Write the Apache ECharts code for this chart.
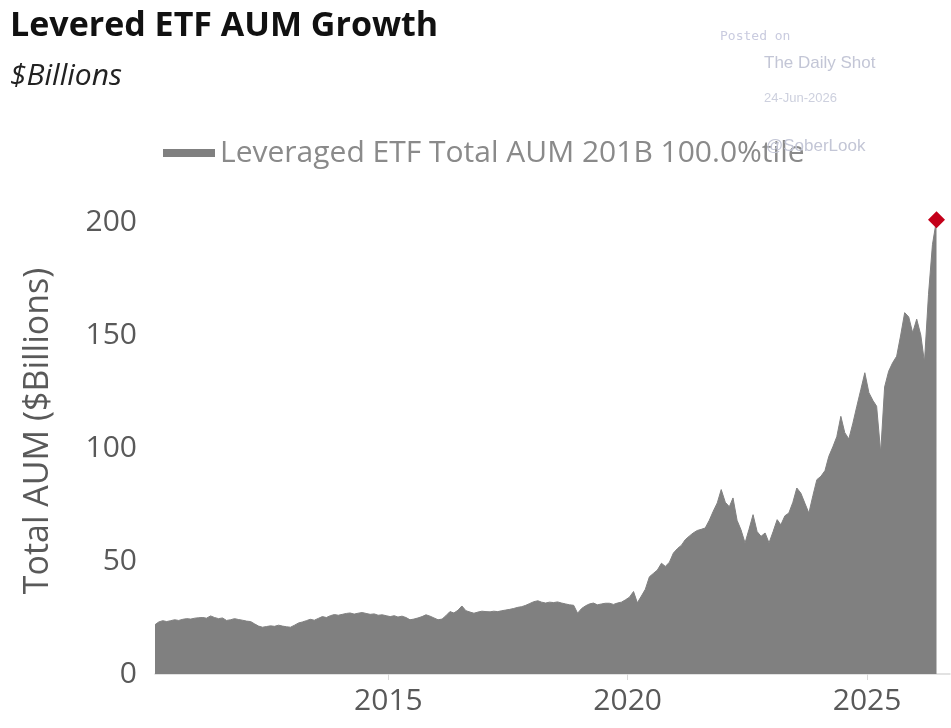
<!DOCTYPE html>
<html>
<head>
<meta charset="utf-8">
<script src="https://cdn.jsdelivr.net/npm/echarts@6/dist/echarts.min.js"></script>
<style>
  html, body { margin: 0; padding: 0; background: #fff; }
  #chart { width: 951px; height: 728px; }
</style>
</head>
<body>
<div id="chart"></div>
<script>
// monthly AUM, $B (mid-month)
const aum2010 = [21.8, 23.0, 23.6, 23.2, 23.6, 24.0, 23.7, 24.2, 24.5, 24.3, 24.7]; // from Feb
const aum2011 = [24.9, 25.0, 24.7, 25.7, 25.0, 24.5, 24.8, 23.7, 24.0, 24.5, 24.1, 23.8];
const aum2012 = [23.4, 23.2, 22.2, 21.2, 20.7, 21.0, 21.3, 21.1, 21.6, 21.2, 20.9, 20.7];
const aum2013 = [21.6, 22.6, 23.0, 23.6, 24.2, 23.8, 24.6, 25.4, 25.0, 25.8, 26.3, 26.0];
const aum2014 = [26.4, 26.8, 27.0, 26.5, 26.9, 27.2, 26.8, 26.4, 26.6, 26.0, 26.2, 25.8];
const aum2015 = [25.4, 25.8, 25.2, 25.6, 25.0, 24.0, 24.3, 24.8, 25.4, 26.2, 25.6, 24.8];
const aum2016 = [24.0, 24.3, 25.8, 27.6, 27.0, 28.2, 30.1, 28.0, 27.4, 26.9, 27.4, 27.8];
const aum2017 = [27.6, 27.5, 27.8, 27.6, 28.0, 28.3, 28.6, 29.0, 29.5, 29.8, 30.4, 31.2];
const aum2018 = [32.0, 32.4, 31.8, 31.4, 31.8, 31.6, 31.9, 31.4, 31.0, 30.6, 30.4, 26.9];
const aum2019 = [29.0, 30.2, 31.0, 31.4, 30.6, 31.0, 31.3, 31.3, 30.8, 31.4, 31.8, 32.8];
const aum2020 = [34.0, 36.5, 31.5, 34.5, 37.5, 43.0, 44.5, 46.0, 49.0, 47.6, 49.5, 53.5];
const aum2021 = [55.5, 57.0, 59.4, 61.0, 62.4, 63.5, 64.0, 64.6, 68.0, 72.0, 75.7, 81.6];
const aum2022 = [76.0, 74.0, 77.9, 68.0, 63.8, 58.0, 64.0, 70.5, 63.0, 60.9, 62.4, 58.0];
const aum2023 = [63.0, 68.3, 66.0, 70.0, 71.2, 76.0, 82.3, 80.0, 75.5, 71.2, 79.0, 86.0];
const aum2024 = [87.5, 90.0, 96.3, 100.5, 105.0, 114.0, 106.8, 104.0, 111.0, 118.5, 126.0, 133.3];
const aum2025 = [124.5, 121.0, 118.5, 98.0, 127.0, 134.0, 137.7, 140.6, 150.0, 159.9, 158.0, 151.0];
const aum2026 = [157.0, 150.0, 138.0, 168.0, 190.0, 201.0]; // to Jun

const yearRows = [aum2010, aum2011, aum2012, aum2013, aum2014, aum2015, aum2016, aum2017,
  aum2018, aum2019, aum2020, aum2021, aum2022, aum2023, aum2024, aum2025, aum2026];
const firstYear = 2010;
const firstMonth = 2;

const yearTicks = [2015, 2020, 2025];

const seriesName = 'Leveraged ETF Total AUM 201B 100.0%tile';

const points = [];
yearRows.forEach((row, i) => {
  const yr = firstYear + i;
  const startM = i === 0 ? firstMonth : 1;
  row.forEach((v, j) => {
    const m = startM + j;
    points.push([Date.UTC(yr, m - 1, 15), v]);
  });
});
const last = points[points.length - 1];
const xTickValues = yearTicks.map((y) => Date.UTC(y, 0, 1));

const chart = echarts.init(document.getElementById('chart'));
const grey = '#808080';
const tickText = '#595959';

chart.setOption({
  animation: false,
  textStyle: { fontFamily: 'Open Sans' },
  title: [
    {
      text: 'Levered ETF AUM Growth',
      left: 5,
      top: 4,
      textStyle: { fontFamily: 'Open Sans', fontWeight: 'bold', fontSize: 34, color: '#111' }
    },
    {
      text: '$Billions',
      left: 5,
      top: 56,
      textStyle: { fontFamily: 'Open Sans', fontStyle: 'italic', fontWeight: 'normal', fontSize: 30, color: '#222' }
    }
  ],
  legend: {
    left: 158,
    top: 133,
    icon: 'rect',
    itemWidth: 52,
    itemHeight: 8,
    textStyle: { fontFamily: 'Open Sans', fontSize: 30, color: '#8a8a8a' },
    data: [seriesName]
  },
  grid: { left: 155, right: 1, top: 222, bottom: 54 },
  xAxis: {
    type: 'value',
    min: Date.UTC(2010, 1, 15),
    max: Date.UTC(2026, 8, 26),
    axisLine: { lineStyle: { color: '#d9d9d9', width: 1.5 } },
    axisTick: {
      show: true,
      length: 6,
      lineStyle: { color: '#d9d9d9' },
      customValues: xTickValues
    },
    axisLabel: {
      customValues: xTickValues,
      formatter: (v) => String(new Date(v).getUTCFullYear()),
      fontSize: 30,
      color: tickText,
      margin: 12
    },
    splitLine: { show: false }
  },
  yAxis: {
    type: 'value',
    min: 0,
    max: 200,
    interval: 50,
    name: 'Total AUM ($Billions)',
    nameLocation: 'middle',
    nameGap: 100,
    nameTextStyle: { fontSize: 34, color: tickText, padding: [0, 0, 0, 34] },
    axisLine: { show: false },
    axisTick: { show: false },
    axisLabel: {
      fontSize: 30,
      color: tickText,
      margin: 18
    },
    splitLine: { show: false }
  },
  series: [
    {
      name: seriesName,
      type: 'line',
      data: points,
      showSymbol: false,
      clip: false,
      lineStyle: { color: grey, width: 1 },
      itemStyle: { color: grey },
      areaStyle: { color: grey, opacity: 1 }
    },
    {
      name: 'latest',
      type: 'scatter',
      data: [last],
      symbol: 'diamond',
      symbolSize: 17,
      clip: false,
      itemStyle: { color: '#c4001a', opacity: 1 },
      z: 5
    }
  ],
  graphic: [
    { type: 'text', left: 720, top: 30, z: 100,
      style: { text: 'Posted on', font: '13px "DejaVu Sans Mono"', fill: '#c9cbdf' } },
    { type: 'text', left: 764, top: 55, z: 100,
      style: { text: 'The Daily Shot', font: '17px "Liberation Sans"', fill: '#c3c6d6' } },
    { type: 'text', left: 764, top: 92, z: 100,
      style: { text: '24-Jun-2026', font: '13px "Liberation Sans"', fill: '#cdd0de' } },
    { type: 'text', left: 766, top: 138, z: 100,
      style: { text: '@SoberLook', font: '17px "Liberation Sans"', fill: '#c3c6d6' } }
  ]
});
</script>
</body>
</html>
